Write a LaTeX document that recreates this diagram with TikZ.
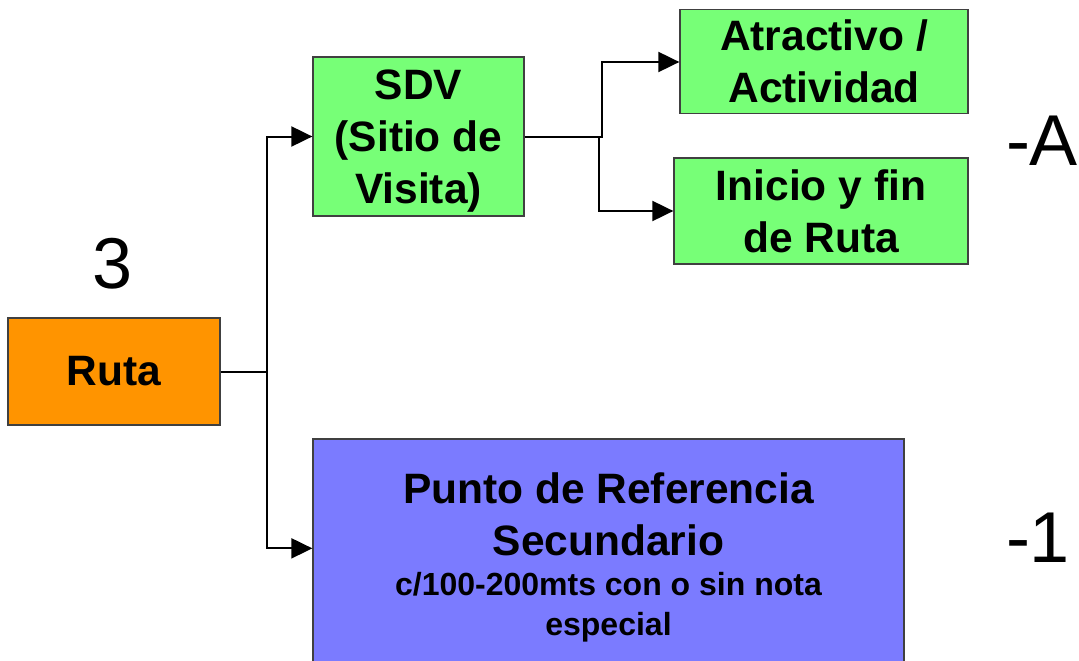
\documentclass[tikz,border=0pt]{standalone}
\usepackage{fontspec}
\setmainfont{Liberation Sans}
\usetikzlibrary{arrows.meta,calc}
\definecolor{orng}{HTML}{FF9400}
\definecolor{grn}{HTML}{77FF77}
\definecolor{blu}{HTML}{7B7BFF}
\definecolor{edge}{HTML}{404040}
\begin{document}
\begin{tikzpicture}[x=1pt,y=-1pt,
  box/.style={draw=edge,line width=1.3pt,inner sep=0pt,align=center,
    font=\fontsize{42.5}{52}\selectfont\bfseries},
  conn/.style={line width=2pt,-{Triangle[length=21pt,width=20pt]}},
  big/.style={font=\fontsize{72}{80}\selectfont}]
\useasboundingbox (0,0) rectangle (1079,661);
\node[box,fill=orng,minimum width=212pt,minimum height=107pt] (ruta) at (114,371.5) {Ruta};
\node[box,fill=grn,minimum width=211pt,minimum height=159pt,text depth=0pt] (sdv) at (418.5,136.5) {SDV\\(Sitio de\\Visita)};
\node[box,fill=grn,minimum width=288pt,minimum height=104pt,text depth=0pt] (atr) at (824,61.5) {Atractivo /\\Actividad};
\node[box,fill=grn,minimum width=294pt,minimum height=106pt] (ini) at (821,211) {Inicio y fin\\de Ruta};
\node[box,fill=blu,minimum width=591pt,minimum height=236pt] (prs) at (608.5,557) {};
\node[font=\fontsize{42.5}{52}\selectfont\bfseries,align=center,anchor=base] (prst) at (608.5,555) {Punto de Referencia\\Secundario};
\node[font=\fontsize{32}{40}\selectfont\bfseries,align=center,anchor=base] (prss) at (608.5,635) {c/100-200mts con o sin nota\\especial};
\node[big,anchor=base] (n3) at (113,288) {3};
\node[big,anchor=base] (na) at (1042,165) {-A};
\node[big,anchor=base] (n1) at (1038,562) {-1};
\coordinate (j1) at ($(ruta.east)+(46,0)$);
\coordinate (pin) at ($(prs.north west)+(0,110)$);
\draw[conn] (ruta.east) -- (j1) |- (sdv.west);
\draw[conn] (j1) |- (pin);
\draw[conn] (sdv.east) -- ++(77,0) |- ($(atr.west)+(0,0.5)$);
\draw[conn] (sdv.east) -- ++(74,0) |- (ini.west);
\end{tikzpicture}
\end{document}
